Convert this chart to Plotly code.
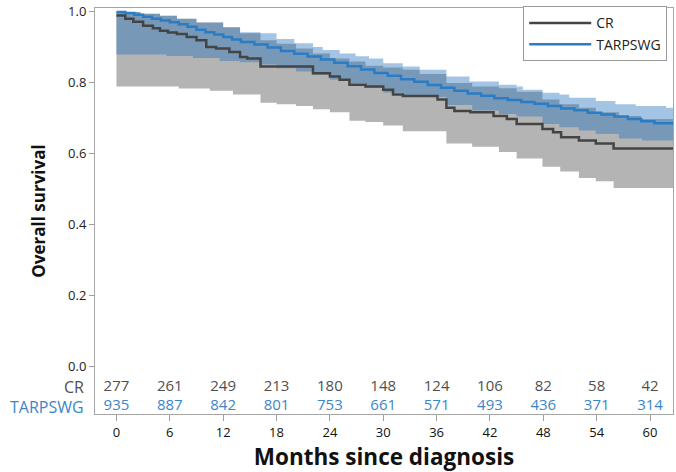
import plotly.graph_objects as go

# ---------------- data ----------------
cr_t = [0, 1.0, 1.9, 3.0, 4.1, 4.9, 5.8, 6.8, 7.9, 9.0, 10.1, 11.2, 12.7, 13.9, 14.7, 16.2,
        22.1, 24.0, 25.1, 26.2, 28.0, 30.0, 31.1, 32.2, 36.1, 37.1, 38.0, 39.8, 42.4, 43.9,
        45.0, 47.9, 49.1, 50.0, 52.0, 53.9, 55.9, 62.6]
cr_s = [0.990, 0.981, 0.972, 0.961, 0.954, 0.947, 0.942, 0.938, 0.929, 0.920, 0.901, 0.897,
        0.887, 0.873, 0.869, 0.846, 0.827, 0.818, 0.809, 0.795, 0.790, 0.781, 0.767, 0.763,
        0.753, 0.730, 0.721, 0.717, 0.707, 0.698, 0.684, 0.670, 0.661, 0.647, 0.638, 0.629,
        0.615, 0.615]

cr_lo_t = [0, 7.0, 10.5, 13.1, 16.2, 18.0, 20.2, 22.1, 24.0, 26.2, 28.0, 30.0, 32.2, 37.1,
           40.0, 43.0, 45.0, 47.9, 49.9, 52.0, 53.9, 55.9, 62.6]
cr_lo = [0.790, 0.784, 0.778, 0.767, 0.744, 0.740, 0.735, 0.726, 0.717, 0.693, 0.690, 0.680,
         0.664, 0.629, 0.620, 0.605, 0.587, 0.564, 0.550, 0.532, 0.523, 0.504, 0.504]

cr_hi_t = [0, 2.7, 4.9, 6.8, 9.0, 12.0, 13.9, 16.2, 18.0, 20.2, 22.1, 24.0, 26.2, 28.0, 30.0,
           32.2, 34.1, 37.1, 40.0, 43.0, 45.0, 47.9, 49.8, 52.0, 53.9, 56.5, 59.0, 62.6]
cr_hi = [1.0, 0.995, 0.989, 0.981, 0.970, 0.957, 0.940, 0.920, 0.910, 0.897, 0.883, 0.869,
         0.860, 0.848, 0.843, 0.837, 0.825, 0.800, 0.790, 0.785, 0.775, 0.753, 0.740, 0.730,
         0.717, 0.707, 0.698, 0.698]

tw_t = [0, 1.0, 2.0, 3.0, 4.0, 5.0, 6.0, 7.0, 8.0, 9.0, 10.0, 11.0, 12.0, 13.0, 14.0, 15.5,
        17.0, 18.5, 20.0, 21.5, 23.0, 24.5, 26.0, 27.5, 29.0, 30.5, 32.0, 33.5, 35.0, 36.5,
        38.0, 39.5, 41.0, 42.5, 44.0, 45.5, 47.0, 48.5, 50.0, 51.5, 53.0, 54.5, 56.0, 57.5,
        59.0, 60.5, 62.6]
tw_s = [1.0, 0.997, 0.992, 0.986, 0.981, 0.976, 0.971, 0.965, 0.958, 0.950, 0.943, 0.936,
        0.929, 0.922, 0.915, 0.908, 0.900, 0.890, 0.882, 0.874, 0.866, 0.857, 0.847, 0.838,
        0.828, 0.820, 0.810, 0.803, 0.794, 0.786, 0.778, 0.770, 0.764, 0.757, 0.752, 0.746,
        0.741, 0.735, 0.728, 0.723, 0.716, 0.711, 0.705, 0.698, 0.692, 0.686, 0.682]

tw_lo_t = [0, 5.6, 8.6, 11.6, 13.9, 16.2, 18.0, 20.2, 22.1, 24.0, 26.2, 28.0, 30.0, 32.2,
           37.1, 40.0, 43.0, 45.0, 47.9, 49.8, 52.0, 53.9, 56.5, 59.1, 62.6]
tw_lo = [0.880, 0.876, 0.870, 0.862, 0.858, 0.852, 0.841, 0.832, 0.823, 0.809, 0.800, 0.786,
         0.772, 0.760, 0.738, 0.722, 0.712, 0.705, 0.684, 0.675, 0.666, 0.656, 0.643, 0.638,
         0.632]

tw_hi_t = [0, 2.7, 4.9, 6.8, 9.0, 12.0, 13.9, 16.2, 18.0, 20.0, 22.1, 23.2, 25.1, 26.9, 28.4,
           30.0, 32.2, 34.1, 37.1, 39.7, 43.0, 45.0, 45.7, 47.9, 49.8, 50.9, 53.9, 56.1, 58.4,
           61.8, 62.6]
tw_hi = [1.0, 0.995, 0.989, 0.981, 0.970, 0.957, 0.943, 0.940, 0.924, 0.912, 0.901, 0.893,
         0.883, 0.875, 0.869, 0.855, 0.846, 0.837, 0.818, 0.804, 0.795, 0.790, 0.781, 0.772,
         0.767, 0.758, 0.749, 0.740, 0.735, 0.730, 0.726]

risk_times = [0, 6, 12, 18, 24, 30, 36, 42, 48, 54, 60]
risk_cr = [277, 261, 249, 213, 180, 148, 124, 106, 82, 58, 42]
risk_tw = [935, 887, 842, 801, 753, 661, 571, 493, 436, 371, 314]

y_ticks = [0.0, 0.2, 0.4, 0.6, 0.8, 1.0]
x_ticks = [0, 6, 12, 18, 24, 30, 36, 42, 48, 54, 60]

# ---------------- styling ----------------
FONT = "Open Sans"
CR_LINE = "#444444"
TW_LINE = "#2a7cc4"
CR_BAND = "#b4b4b4"
TW_BAND = "rgba(38,114,190,0.42)"
CR_TXT = "#505050"
TW_TXT = "#3a86c8"

fig = go.Figure()

# CR confidence band
fig.add_trace(go.Scatter(x=cr_lo_t, y=cr_lo, mode="lines", line=dict(width=0, shape="hv"),
                         showlegend=False, hoverinfo="skip"))
fig.add_trace(go.Scatter(x=cr_hi_t, y=cr_hi, mode="lines", line=dict(width=0, shape="hv"),
                         fill="tonexty", fillcolor=CR_BAND, showlegend=False, hoverinfo="skip"))
# TARPSWG confidence band
fig.add_trace(go.Scatter(x=tw_lo_t, y=tw_lo, mode="lines", line=dict(width=0, shape="hv"),
                         showlegend=False, hoverinfo="skip"))
fig.add_trace(go.Scatter(x=tw_hi_t, y=tw_hi, mode="lines", line=dict(width=0, shape="hv"),
                         fill="tonexty", fillcolor=TW_BAND, showlegend=False, hoverinfo="skip"))

# survival curves
fig.add_trace(go.Scatter(x=cr_t, y=cr_s, mode="lines", name="CR",
                         line=dict(color=CR_LINE, width=2.5, shape="hv")))
fig.add_trace(go.Scatter(x=tw_t, y=tw_s, mode="lines", name="TARPSWG",
                         line=dict(color=TW_LINE, width=2.5, shape="hv")))

# numbers at risk
fig.add_trace(go.Scatter(x=risk_times, y=[-0.0575] * len(risk_times), mode="text",
                         text=[str(v) for v in risk_cr], textposition="middle center",
                         textfont=dict(family=FONT, size=15, color=CR_TXT),
                         showlegend=False, hoverinfo="skip"))
fig.add_trace(go.Scatter(x=risk_times, y=[-0.111] * len(risk_times), mode="text",
                         text=[str(v) for v in risk_tw], textposition="middle center",
                         textfont=dict(family=FONT, size=15, color=TW_TXT),
                         showlegend=False, hoverinfo="skip"))

fig.add_annotation(x=-0.018, xref="paper", y=-0.0565, yref="y", text="CR", showarrow=False,
                   xanchor="right", yanchor="middle", borderpad=0,
                   font=dict(family=FONT, size=16, color=CR_TXT))
fig.add_annotation(x=-0.018, xref="paper", y=-0.1125, yref="y", text="TARPSWG", showarrow=False,
                   xanchor="right", yanchor="middle", borderpad=0,
                   font=dict(family=FONT, size=16, color=TW_TXT))

fig.update_layout(
    width=676, height=472,
    margin=dict(l=95, r=2, t=2, b=58),
    paper_bgcolor="white", plot_bgcolor="white",
    font=dict(family=FONT, color="#222222"),
    legend=dict(x=0.99, y=1.004, xanchor="right", yanchor="top", traceorder="normal",
                bgcolor="white", bordercolor="#9a9a9a", borderwidth=1,
                font=dict(family=FONT, size=14, color="#222222"),
                tracegroupgap=0, itemwidth=62),
)

fig.update_xaxes(
    range=[-2.41, 62.58], tickvals=x_ticks, ticks="outside", ticklen=6,
    tickcolor="#a0a0a0", showgrid=False, zeroline=False,
    showline=True, mirror=True, linecolor="#a6a6a6", linewidth=1,
    tickfont=dict(family=FONT, size=13, color="#111111"),
    title=dict(text="<b>Months since diagnosis</b>", standoff=13,
               font=dict(family=FONT, size=22.5, color="#111111")),
)
fig.update_yaxes(
    range=[-0.133, 1.011], tickvals=y_ticks, tickformat=".1f", ticks="outside", ticklen=5,
    tickcolor="#a0a0a0", showgrid=False, zeroline=False, ticklabeloverflow="allow",
    showline=True, mirror=True, linecolor="#a6a6a6", linewidth=1,
    tickfont=dict(family=FONT, size=13, color="#222222"),
    title=dict(text="<b>Overall survival</b>", standoff=18,
               font=dict(family=FONT, size=17, color="#111111")),
)

fig.write_html("out.html", config={"displayModeBar": False},
               post_script="document.body.style.margin='0';")
